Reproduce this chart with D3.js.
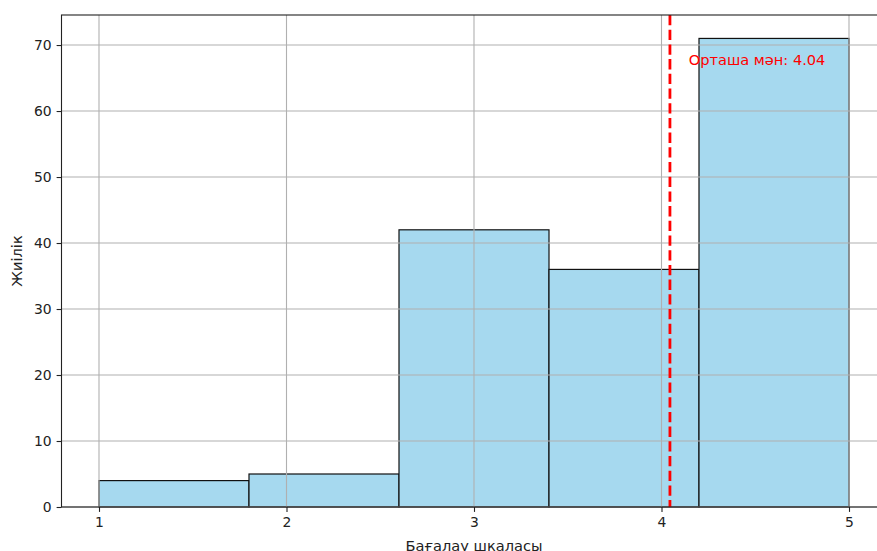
<!DOCTYPE html>
<html><head><meta charset="utf-8">
<script src="https://cdn.jsdelivr.net/npm/d3@7"></script>
<style>body{margin:0;background:#fff}svg{display:block;font-family:"DejaVu Sans",sans-serif}</style>
</head><body>
<script>
const binEdges = [1, 1.8, 2.6, 3.4, 4.2, 5];
const counts = [4, 5, 42, 36, 71];
const meanValue = 4.045;
const meanLabel = "Орташа мән: 4.04";
const xTicks = [1, 2, 3, 4, 5];
const yTicks = [0, 10, 20, 30, 40, 50, 60, 70];
const xTitle = "Бағалау шкаласы";
const yTitle = "Жиілік";

(function () {
const W = 877, H = 551;
const svg = d3.select("body").append("svg").attr("width", W).attr("height", H);
const mL = 61.5, mR = 886.5, mT = 15, mB = 507;
const x = d3.scaleLinear().domain([0.8, 5.2]).range([mL, mR]);
const y = d3.scaleLinear().domain([0, 71 * 1.05]).range([mB, mT]);

// bars
const bins = counts.map((c, i) => ({x0: binEdges[i], x1: binEdges[i + 1], c}));
svg.append("g").selectAll("rect").data(bins).join("rect")
  .attr("x", d => x(d.x0)).attr("width", d => x(d.x1) - x(d.x0))
  .attr("y", d => y(d.c)).attr("height", d => y(0) - y(d.c))
  .attr("fill", "#a6d9ef").attr("stroke", "#111").attr("stroke-width", 1.2);

// grid
const grid = svg.append("g").attr("stroke", "#b0b0b0").attr("stroke-width", 1.1);
xTicks.forEach(t => grid.append("line").attr("x1", x(t)).attr("x2", x(t)).attr("y1", mT).attr("y2", mB));
yTicks.forEach(t => grid.append("line").attr("x1", mL).attr("x2", mR).attr("y1", y(t)).attr("y2", y(t)));

// mean line
svg.append("line").attr("x1", x(meanValue)).attr("x2", x(meanValue)).attr("y1", mT).attr("y2", mB)
  .attr("stroke", "red").attr("stroke-width", 2.8).attr("stroke-dasharray", "10.3,4.4");
svg.append("text").attr("x", x(meanValue + 0.1)).attr("y", y(67)).attr("fill", "red")
  .attr("font-size", 14.6).text(meanLabel);

// axes
const xAxis = d3.axisBottom(x).tickValues(xTicks).tickFormat(d3.format("d")).tickSizeOuter(0).tickSize(4.9).tickPadding(4.9);
const yAxis = d3.axisLeft(y).tickValues(yTicks).tickFormat(d3.format("d")).tickSizeOuter(0).tickSize(4.9).tickPadding(4.9);
const gx = svg.append("g").attr("transform", `translate(0,${mB})`).call(xAxis);
const gy = svg.append("g").attr("transform", `translate(${mL},0)`).call(yAxis);
[gx, gy].forEach(g => {
  g.select(".domain").remove();
  g.selectAll("text").attr("font-size", 13.9).attr("fill", "#222").attr("font-family", "DejaVu Sans");
  g.selectAll("line").attr("stroke", "#222").attr("stroke-width", 1.1);
});
// spines
svg.append("rect").attr("x", mL).attr("y", mT).attr("width", mR - mL).attr("height", mB - mT)
  .attr("fill", "none").attr("stroke", "#222").attr("stroke-width", 1.1);

svg.append("text").attr("x", (mL + mR) / 2).attr("y", 550.5).attr("text-anchor", "middle")
  .attr("font-size", 14.6).attr("fill", "#222").text(xTitle);
svg.append("text").attr("transform", `translate(22,${(mT + mB) / 2}) rotate(-90)`).attr("text-anchor", "middle")
  .attr("font-size", 14.6).attr("fill", "#222").text(yTitle);
})();
</script>
</body></html>
